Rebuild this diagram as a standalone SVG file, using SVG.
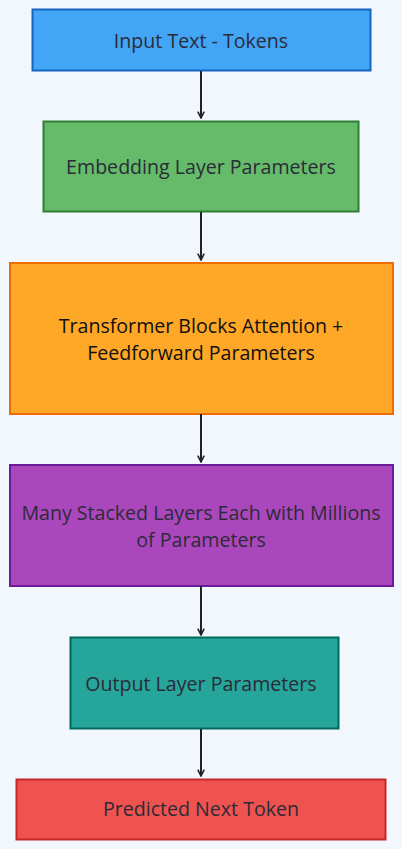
<svg xmlns="http://www.w3.org/2000/svg" width="402" height="849" viewBox="0 0 402 849">
<style>
.n rect{stroke-width:2}
.t{font-family:"Open Sans","Noto Sans",sans-serif;font-size:19.6px;fill:#2b2b38;text-anchor:middle;dominant-baseline:central}
.c line{stroke:#222;stroke-width:2;fill:none}
</style>
<defs>
<marker id="ah" viewBox="0 0 10 10" refX="9" refY="5" markerWidth="8" markerHeight="8" orient="auto" markerUnits="userSpaceOnUse">
<path d="M1,1 L9,5 L1,9" fill="none" stroke="#222" stroke-width="2"/>
</marker>
</defs>
<rect width="402" height="849" fill="#f2f7fe"/>
<g id="n1" class="n"><rect x="32.5" y="9.5" width="338" height="61" fill="#42a5f5" stroke="#1565c0"/><text class="t" x="201" y="40">Input Text - Tokens</text></g>
<g id="n2" class="n"><rect x="43.5" y="121.5" width="315" height="90" fill="#66bb6a" stroke="#2e7d32"/><text class="t" x="201" y="166">Embedding Layer Parameters</text></g>
<g id="n3" class="n"><rect x="10" y="263" width="383" height="151" fill="#ffa726" stroke="#ef6c00"/><text class="t" x="201" y="325" style="fill:#111">Transformer Blocks Attention +</text><text class="t" x="201" y="352" style="fill:#111">Feedforward Parameters</text></g>
<g id="n4" class="n"><rect x="10" y="465" width="383" height="121" fill="#ab47bc" stroke="#6a1b9a"/><text class="t" x="201" y="512">Many Stacked Layers Each with Millions</text><text class="t" x="201" y="539">of Parameters</text></g>
<g id="n5" class="n"><rect x="70.5" y="637.5" width="268" height="91" fill="#26a69a" stroke="#00695c"/><text class="t" x="201" y="683">Output Layer Parameters</text></g>
<g id="n6" class="n"><rect x="16.5" y="779.5" width="369" height="60" fill="#ef5350" stroke="#c62828"/><text class="t" x="201" y="808">Predicted Next Token</text></g>
<g id="connectors" class="c">
<line x1="201" y1="71" x2="201" y2="118" marker-end="url(#ah)"/>
<line x1="201" y1="212" x2="201" y2="260" marker-end="url(#ah)"/>
<line x1="201" y1="414" x2="201" y2="462" marker-end="url(#ah)"/>
<line x1="201" y1="586" x2="201" y2="635" marker-end="url(#ah)"/>
<line x1="201" y1="729" x2="201" y2="776" marker-end="url(#ah)"/>
</g>
</svg>
